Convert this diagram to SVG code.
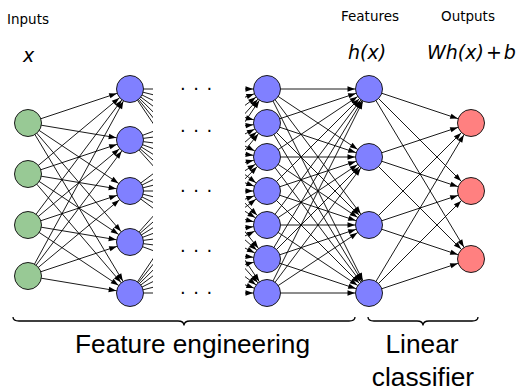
<svg xmlns="http://www.w3.org/2000/svg" width="519" height="392" viewBox="0 0 519 392">
<style>
.e{stroke:#000;stroke-width:0.9;fill:none;marker-end:url(#ah)}
.n{stroke:#1a1a1a;stroke-width:1}
.in{fill:#98c995}
.hid{fill:#8080ff}
.out{fill:#ff8080}
.lbl{font-family:"DejaVu Sans",sans-serif;font-size:13.5px;fill:#000}
.math{font-family:"DejaVu Sans",sans-serif;font-style:italic;font-size:19px;fill:#000}
.big{font-family:"Liberation Sans",Arial,sans-serif;font-size:26.3px;fill:#000}
.dots{font-family:"DejaVu Sans",sans-serif;font-size:18px;letter-spacing:7.5px;fill:#000}
.brace{stroke:#000;stroke-width:1.3;fill:none}
</style>
<defs>
<marker id="ah" markerUnits="userSpaceOnUse" markerWidth="8" markerHeight="6" refX="21.5" refY="3" orient="auto" overflow="visible">
<path d="M0,0.3 L7.5,3 L0,5.7 z" fill="#000"/>
</marker>
<clipPath id="gap">
<rect x="0" y="0" width="153" height="392"/>
<rect x="245" y="0" width="274" height="392"/>
</clipPath>
</defs>

<g id="connectors">
<g id="in-to-h1">
<line class="e" x1="28" y1="123" x2="130" y2="89"/>
<line class="e" x1="28" y1="123" x2="130" y2="140"/>
<line class="e" x1="28" y1="123" x2="130" y2="191"/>
<line class="e" x1="28" y1="123" x2="130" y2="242"/>
<line class="e" x1="28" y1="123" x2="130" y2="293"/>
<line class="e" x1="28" y1="174" x2="130" y2="89"/>
<line class="e" x1="28" y1="174" x2="130" y2="140"/>
<line class="e" x1="28" y1="174" x2="130" y2="191"/>
<line class="e" x1="28" y1="174" x2="130" y2="242"/>
<line class="e" x1="28" y1="174" x2="130" y2="293"/>
<line class="e" x1="28" y1="225" x2="130" y2="89"/>
<line class="e" x1="28" y1="225" x2="130" y2="140"/>
<line class="e" x1="28" y1="225" x2="130" y2="191"/>
<line class="e" x1="28" y1="225" x2="130" y2="242"/>
<line class="e" x1="28" y1="225" x2="130" y2="293"/>
<line class="e" x1="28" y1="276" x2="130" y2="89"/>
<line class="e" x1="28" y1="276" x2="130" y2="140"/>
<line class="e" x1="28" y1="276" x2="130" y2="191"/>
<line class="e" x1="28" y1="276" x2="130" y2="242"/>
<line class="e" x1="28" y1="276" x2="130" y2="293"/>
</g>
<g id="h1-to-h2" clip-path="url(#gap)">
<line class="e" x1="130" y1="89" x2="267" y2="89"/>
<line class="e" x1="130" y1="89" x2="267" y2="123"/>
<line class="e" x1="130" y1="89" x2="267" y2="157"/>
<line class="e" x1="130" y1="89" x2="267" y2="191"/>
<line class="e" x1="130" y1="89" x2="267" y2="225"/>
<line class="e" x1="130" y1="89" x2="267" y2="259"/>
<line class="e" x1="130" y1="89" x2="267" y2="293"/>
<line class="e" x1="130" y1="140" x2="267" y2="89"/>
<line class="e" x1="130" y1="140" x2="267" y2="123"/>
<line class="e" x1="130" y1="140" x2="267" y2="157"/>
<line class="e" x1="130" y1="140" x2="267" y2="191"/>
<line class="e" x1="130" y1="140" x2="267" y2="225"/>
<line class="e" x1="130" y1="140" x2="267" y2="259"/>
<line class="e" x1="130" y1="140" x2="267" y2="293"/>
<line class="e" x1="130" y1="191" x2="267" y2="89"/>
<line class="e" x1="130" y1="191" x2="267" y2="123"/>
<line class="e" x1="130" y1="191" x2="267" y2="157"/>
<line class="e" x1="130" y1="191" x2="267" y2="191"/>
<line class="e" x1="130" y1="191" x2="267" y2="225"/>
<line class="e" x1="130" y1="191" x2="267" y2="259"/>
<line class="e" x1="130" y1="191" x2="267" y2="293"/>
<line class="e" x1="130" y1="242" x2="267" y2="89"/>
<line class="e" x1="130" y1="242" x2="267" y2="123"/>
<line class="e" x1="130" y1="242" x2="267" y2="157"/>
<line class="e" x1="130" y1="242" x2="267" y2="191"/>
<line class="e" x1="130" y1="242" x2="267" y2="225"/>
<line class="e" x1="130" y1="242" x2="267" y2="259"/>
<line class="e" x1="130" y1="242" x2="267" y2="293"/>
<line class="e" x1="130" y1="293" x2="267" y2="89"/>
<line class="e" x1="130" y1="293" x2="267" y2="123"/>
<line class="e" x1="130" y1="293" x2="267" y2="157"/>
<line class="e" x1="130" y1="293" x2="267" y2="191"/>
<line class="e" x1="130" y1="293" x2="267" y2="225"/>
<line class="e" x1="130" y1="293" x2="267" y2="259"/>
<line class="e" x1="130" y1="293" x2="267" y2="293"/>
</g>
<g id="h2-to-feat">
<line class="e" x1="267" y1="89" x2="369" y2="89"/>
<line class="e" x1="267" y1="89" x2="369" y2="157"/>
<line class="e" x1="267" y1="89" x2="369" y2="225"/>
<line class="e" x1="267" y1="89" x2="369" y2="293"/>
<line class="e" x1="267" y1="123" x2="369" y2="89"/>
<line class="e" x1="267" y1="123" x2="369" y2="157"/>
<line class="e" x1="267" y1="123" x2="369" y2="225"/>
<line class="e" x1="267" y1="123" x2="369" y2="293"/>
<line class="e" x1="267" y1="157" x2="369" y2="89"/>
<line class="e" x1="267" y1="157" x2="369" y2="157"/>
<line class="e" x1="267" y1="157" x2="369" y2="225"/>
<line class="e" x1="267" y1="157" x2="369" y2="293"/>
<line class="e" x1="267" y1="191" x2="369" y2="89"/>
<line class="e" x1="267" y1="191" x2="369" y2="157"/>
<line class="e" x1="267" y1="191" x2="369" y2="225"/>
<line class="e" x1="267" y1="191" x2="369" y2="293"/>
<line class="e" x1="267" y1="225" x2="369" y2="89"/>
<line class="e" x1="267" y1="225" x2="369" y2="157"/>
<line class="e" x1="267" y1="225" x2="369" y2="225"/>
<line class="e" x1="267" y1="225" x2="369" y2="293"/>
<line class="e" x1="267" y1="259" x2="369" y2="89"/>
<line class="e" x1="267" y1="259" x2="369" y2="157"/>
<line class="e" x1="267" y1="259" x2="369" y2="225"/>
<line class="e" x1="267" y1="259" x2="369" y2="293"/>
<line class="e" x1="267" y1="293" x2="369" y2="89"/>
<line class="e" x1="267" y1="293" x2="369" y2="157"/>
<line class="e" x1="267" y1="293" x2="369" y2="225"/>
<line class="e" x1="267" y1="293" x2="369" y2="293"/>
</g>
<g id="feat-to-out">
<line class="e" x1="369" y1="89" x2="471" y2="123"/>
<line class="e" x1="369" y1="89" x2="471" y2="191"/>
<line class="e" x1="369" y1="89" x2="471" y2="259"/>
<line class="e" x1="369" y1="157" x2="471" y2="123"/>
<line class="e" x1="369" y1="157" x2="471" y2="191"/>
<line class="e" x1="369" y1="157" x2="471" y2="259"/>
<line class="e" x1="369" y1="225" x2="471" y2="123"/>
<line class="e" x1="369" y1="225" x2="471" y2="191"/>
<line class="e" x1="369" y1="225" x2="471" y2="259"/>
<line class="e" x1="369" y1="293" x2="471" y2="123"/>
<line class="e" x1="369" y1="293" x2="471" y2="191"/>
<line class="e" x1="369" y1="293" x2="471" y2="259"/>
</g>
</g>

<g id="input-layer">
<g id="in1"><circle class="n in" cx="28" cy="123" r="13.5"/></g>
<g id="in2"><circle class="n in" cx="28" cy="174" r="13.5"/></g>
<g id="in3"><circle class="n in" cx="28" cy="225" r="13.5"/></g>
<g id="in4"><circle class="n in" cx="28" cy="276" r="13.5"/></g>
</g>
<g id="hidden-layer-1">
<g id="h1a"><circle class="n hid" cx="130" cy="89" r="13.5"/></g>
<g id="h1b"><circle class="n hid" cx="130" cy="140" r="13.5"/></g>
<g id="h1c"><circle class="n hid" cx="130" cy="191" r="13.5"/></g>
<g id="h1d"><circle class="n hid" cx="130" cy="242" r="13.5"/></g>
<g id="h1e"><circle class="n hid" cx="130" cy="293" r="13.5"/></g>
</g>
<g id="ellipses">
<text class="dots" x="180.1" y="90.3">...</text>
<text class="dots" x="180.1" y="132.3">...</text>
<text class="dots" x="180.1" y="192.3">...</text>
<text class="dots" x="180.1" y="252.3">...</text>
<text class="dots" x="180.1" y="294.3">...</text>
</g>
<g id="hidden-layer-2">
<g id="h2a"><circle class="n hid" cx="267" cy="89" r="13.5"/></g>
<g id="h2b"><circle class="n hid" cx="267" cy="123" r="13.5"/></g>
<g id="h2c"><circle class="n hid" cx="267" cy="157" r="13.5"/></g>
<g id="h2d"><circle class="n hid" cx="267" cy="191" r="13.5"/></g>
<g id="h2e"><circle class="n hid" cx="267" cy="225" r="13.5"/></g>
<g id="h2f"><circle class="n hid" cx="267" cy="259" r="13.5"/></g>
<g id="h2g"><circle class="n hid" cx="267" cy="293" r="13.5"/></g>
</g>
<g id="feature-layer">
<g id="f1"><circle class="n hid" cx="369" cy="89" r="13.5"/></g>
<g id="f2"><circle class="n hid" cx="369" cy="157" r="13.5"/></g>
<g id="f3"><circle class="n hid" cx="369" cy="225" r="13.5"/></g>
<g id="f4"><circle class="n hid" cx="369" cy="293" r="13.5"/></g>
</g>
<g id="output-layer">
<g id="o1"><circle class="n out" cx="471" cy="123" r="13.5"/></g>
<g id="o2"><circle class="n out" cx="471" cy="191" r="13.5"/></g>
<g id="o3"><circle class="n out" cx="471" cy="259" r="13.5"/></g>
</g>

<g id="labels">
<text class="lbl" x="7" y="24">Inputs</text>
<text class="math" x="23" y="62">x</text>
<text class="lbl" x="341" y="21">Features</text>
<text class="lbl" x="441" y="21">Outputs</text>
<text class="math" x="348" y="59">h(x)</text>
<text class="math" x="427" y="59">Wh(x)<tspan dx="2" font-style="normal">+</tspan><tspan dx="2">b</tspan></text>
</g>

<g id="braces">
<path class="brace" d="M13,317 Q13,321 19,321 L178,321 Q184,321 184,325.5 Q184,321 190,321 L349,321 Q355,321 355,317"/>
<path class="brace" d="M368,317 Q368,321 374,321 L417,321 Q423,321 423,325.5 Q423,321 429,321 L472,321 Q478,321 478,317"/>
<text class="big" x="75" y="353" textLength="235" lengthAdjust="spacingAndGlyphs">Feature engineering</text>
<text class="big" x="422" y="353" text-anchor="middle">Linear</text>
<text class="big" x="423" y="386" text-anchor="middle">classifier</text>
</g>
</svg>
